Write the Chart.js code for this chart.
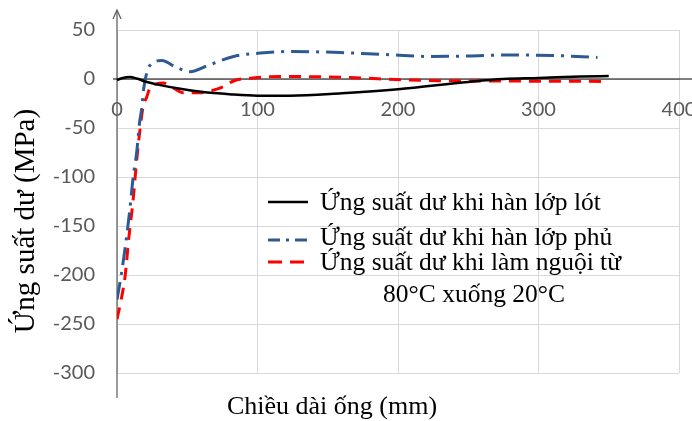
<!DOCTYPE html>
<html>
<head>
<meta charset="utf-8">
<script src="https://cdn.jsdelivr.net/npm/chart.js@4/dist/chart.umd.min.js"></script>
<style>
html,body{margin:0;padding:0;background:#fff;}
#wrap{width:692px;height:421px;position:relative;}
</style>
</head>
<body>
<div id="wrap"><canvas id="c" width="692" height="421"></canvas></div>
<script>
// ---- data ----
const seriesLabels = [
  "Ứng suất dư khi hàn lớp lót",
  "Ứng suất dư khi hàn lớp phủ",
  "Ứng suất dư khi làm nguội từ"
];
const legendExtraLine = "80°C xuống 20°C";
const xTitle = "Chiều dài ống (mm)";
const yTitle = "Ứng suất dư (MPa)";

const lotX = [0, 4, 9, 14, 20, 30, 45, 60, 80, 100, 123, 160, 200, 250, 275, 300, 330, 350];
const lotY = [-1, 1, 2, 0.5, -2.5, -6, -10, -13, -15.5, -17, -17, -14.5, -10.5, -3, 0, 1, 2.5, 3];

const phuX = [0, 3, 6, 9, 11.5, 14, 16, 17.6, 19, 23.5, 32, 42, 52, 65, 83, 102, 123, 159, 190, 223, 250, 277, 310, 342];
const phuY = [-225, -200, -170, -135, -100, -75, -45, -30, -10, 14, 19, 12, 7.5, 14, 23, 26.5, 28, 27, 25, 23, 23.5, 24.5, 24, 22];

const nguoiX = [0, 3, 5.7, 8.5, 11.5, 14, 16.5, 18.6, 21, 23.5, 28, 33, 40, 47, 59, 67, 75.5, 83, 100, 123, 166, 206, 254, 300, 349];
const nguoiY = [-245, -225, -202, -161, -123, -83, -50, -28, -19, -9, -5, -4, -9, -14, -14, -12, -8, -2, 1.5, 2.5, 1.5, -1, -2, -2.2, -2.5];

const xTicks = [0, 100, 200, 300, 400];
const yTicks = [50, 0, -50, -100, -150, -200, -250, -300];

function pts(xs, ys){ return xs.map((x,i)=>({x:x, y:ys[i]})); }

const serif = "'Liberation Serif', 'DejaVu Serif', serif";
const sans = "Lato, 'Open Sans', 'Liberation Sans', sans-serif";

const decor = {
  id: 'decor',
  beforeDatasetsDraw(chart){
    const {ctx, scales} = chart;
    const xs = scales.x, ys = scales.y;
    ctx.save();
    const ax = xs.getPixelForValue(0);
    ctx.strokeStyle = '#595959';
    ctx.lineWidth = 1.2;
    ctx.beginPath();
    ctx.moveTo(ax, 398);
    ctx.lineTo(ax, 11);
    ctx.stroke();
    ctx.beginPath();
    ctx.moveTo(ax-4, 19);
    ctx.lineTo(ax, 10);
    ctx.lineTo(ax+4, 19);
    ctx.stroke();
    const y0 = ys.getPixelForValue(0);
    ctx.strokeStyle = '#000';
    ctx.lineWidth = 1;
    ctx.beginPath();
    ctx.moveTo(ax-4, y0);
    ctx.lineTo(692, y0);
    ctx.stroke();
    ctx.restore();
  },
  afterDraw(chart){
    const {ctx} = chart;
    ctx.save();
    ctx.fillStyle = '#000';
    ctx.font = "26px " + serif;
    ctx.textAlign = 'center';
    ctx.textBaseline = 'middle';
    ctx.fillText(xTitle, 332, 407);
    ctx.save();
    ctx.translate(26, 221);
    ctx.rotate(-Math.PI/2);
    ctx.font = "29px " + serif;
    ctx.fillText(yTitle, 0, 0);
    ctx.restore();
    const rows = [202, 240, 262];
    const baselines = [210, 245, 270];
    chart.data.datasets.forEach((ds, i) => {
      ctx.save();
      ctx.strokeStyle = ds.borderColor;
      ctx.lineWidth = ds.borderWidth;
      ctx.setLineDash(ds.legendDash || []);
      ctx.beginPath();
      ctx.moveTo(268, rows[i]);
      ctx.lineTo(308, rows[i]);
      ctx.stroke();
      ctx.restore();
      ctx.font = "25.5px " + serif;
      ctx.textAlign = 'left';
      ctx.textBaseline = 'alphabetic';
      ctx.fillStyle = '#000';
      ctx.fillText(ds.label, 320, baselines[i]);
    });
    ctx.textAlign = 'center';
    ctx.fillText(legendExtraLine, 474, 302);
    ctx.restore();
  }
};

new Chart(document.getElementById('c'), {
  type: 'line',
  data: {
    datasets: [
      { label: seriesLabels[0], data: pts(lotX, lotY), borderColor: '#000000', borderWidth: 2.5,
        legendDash: [], borderDash: [] },
      { label: seriesLabels[1], data: pts(phuX, phuY), borderColor: '#2E5A93', borderWidth: 3,
        borderDash: [18, 7, 3, 7], legendDash: [12, 6, 3, 6] },
      { label: seriesLabels[2], data: pts(nguoiX, nguoiY), borderColor: '#FF0000', borderWidth: 3,
        borderDash: [12, 8], legendDash: [14, 8] }
    ]
  },
  options: {
    responsive: false,
    animation: false,
    devicePixelRatio: 1,
    elements: { point: { radius: 0 }, line: { cubicInterpolationMode: 'monotone', fill: false } },
    layout: { padding: { top: 30, right: 13, bottom: 48, left: 0 } },
    plugins: { legend: { display: false }, tooltip: { enabled: false } },
    scales: {
      x: {
        type: 'linear',
        position: { y: 0 },
        min: 0, max: 400,
        afterBuildTicks(s){ s.ticks = xTicks.map(v => ({value: v})); },
        afterFit(s){ s.paddingLeft = 0; s.paddingRight = 0; },
        grid: { color: '#D9D9D9', lineWidth: 1, drawTicks: false },
        border: { display: false },
        ticks: { color: '#595959', font: { family: sans, size: 20 }, padding: 19, maxRotation: 0, autoSkip: false }
      },
      y: {
        type: 'linear',
        position: 'left',
        min: -300, max: 50,
        afterBuildTicks(s){ s.ticks = yTicks.map(v => ({value: v})); },
        afterFit(s){ s.width = 117; s.paddingTop = 0; s.paddingBottom = 0; },
        grid: { color: '#D9D9D9', lineWidth: 1, drawTicks: false },
        border: { display: false },
        ticks: { color: '#595959', font: { family: sans, size: 20 }, padding: 22 }
      }
    }
  },
  plugins: [decor]
});
</script>
</body>
</html>
